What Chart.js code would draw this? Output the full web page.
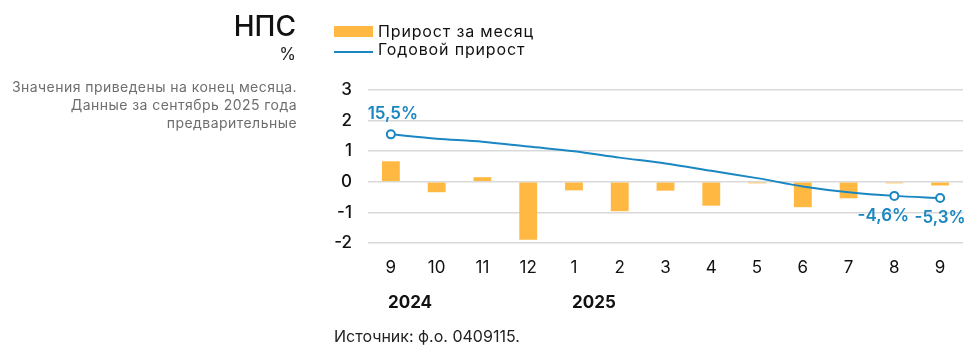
<!DOCTYPE html>
<html><head><meta charset="utf-8">
<script src="https://cdn.jsdelivr.net/npm/chart.js@4/dist/chart.umd.min.js"></script>
<style>
html,body{margin:0;padding:0;background:#fff;}
body{width:969px;height:356px;position:relative;overflow:hidden;font-family:Inter,"Noto Sans",sans-serif;}
#c{position:absolute;left:0;top:0;}
.t{position:absolute;white-space:nowrap;line-height:normal;}
</style></head><body>
<canvas id="c" width="969" height="356"></canvas>
<div class="t" style="right:673px;top:9px;font-size:28px;font-weight:500;color:#111;">НПС</div>
<div class="t" style="right:673px;top:44px;font-size:17px;color:#222;">%</div>
<div class="t" style="right:672px;top:78px;font-size:14px;line-height:18px;color:#6e6e6e;text-align:right;letter-spacing:0.45px;">Значения приведены на конец месяца.<br>Данные за сентябрь 2025 года<br>предварительные</div>
<div class="t" style="left:334px;top:26px;width:39px;height:11px;background:#ffb943;"></div>
<div class="t" style="left:378px;top:21px;font-size:16px;color:#111;letter-spacing:0.85px;">Прирост за месяц</div>
<div class="t" style="left:334px;top:51px;width:39px;height:2px;background:#1a87c2;"></div>
<div class="t" style="left:378px;top:39px;font-size:16px;color:#111;letter-spacing:0.85px;">Годовой прирост</div>
<div class="t" id="y1" style="left:388px;top:292px;font-size:17px;font-weight:700;color:#111;"></div>
<div class="t" id="y2" style="left:572px;top:292px;font-size:17px;font-weight:700;color:#111;"></div>
<div class="t" style="left:334px;top:326px;font-size:16px;color:#222;">Источник: ф.о. 0409115.</div>
<script>
const categories = ['9','10','11','12','1','2','3','4','5','6','7','8','9'];
const years = ['2024','2025'];
const monthlyGrowth = [0.67,-0.34,0.15,-1.89,-0.28,-0.96,-0.29,-0.78,-0.05,-0.83,-0.54,-0.05,-0.12];
const annualGrowth = [15.5,14.1,13.1,11.5,10.0,7.9,6.0,3.6,1.2,-1.5,-3.4,-4.6,-5.3];
const labeledPoints = [0,11,12];
const labelShiftX = [2,-11,0];
const yTicks = [3,2,1,0,-1,-2];

document.getElementById('y1').textContent = years[0];
document.getElementById('y2').textContent = years[1];

const BLUE = '#1a87c2';
const FONT = 'Inter, "Noto Sans", sans-serif';

const labelPlugin = {
  id:'lbl',
  afterDatasetsDraw(chart){
    const ctx = chart.ctx;
    const meta = chart.getDatasetMeta(1);
    ctx.save();
    ctx.fillStyle = BLUE;
    ctx.font = '600 17px ' + FONT;
    ctx.textAlign = 'center';
    ctx.textBaseline = 'middle';
    labeledPoints.forEach((i,k)=>{
      const p = meta.data[i];
      const v = annualGrowth[i];
      const txt = v.toFixed(1).replace('.',',') + '%';
      const dy = v >= 0 ? -20 : 20;
      ctx.fillText(txt, p.x + labelShiftX[k], p.y + dy);
    });
    ctx.restore();
  }
};

new Chart(document.getElementById('c'), {
  data:{
    labels: categories,
    datasets:[
      {type:'bar', label:'Прирост за месяц', data: monthlyGrowth, backgroundColor:'#ffb943', yAxisID:'y',
       categoryPercentage:1, barPercentage:0.39, order:2},
      {type:'line', label:'Годовой прирост', data: annualGrowth, yAxisID:'y2', borderColor:BLUE, borderWidth:2,
       tension:0.3, pointRadius: annualGrowth.map((v,i)=>labeledPoints.includes(i)?4:0),
       pointBackgroundColor:'#fff', pointBorderColor:BLUE, pointBorderWidth:2, order:1}
    ]
  },
  options:{
    responsive:false, animation:false,
    layout:{padding:{left:320, right:6, top:90, bottom:73}},
    plugins:{legend:{display:false}, tooltip:{enabled:false}},
    scales:{
      x:{grid:{display:false, drawTicks:false}, border:{display:false},
         ticks:{color:'#111', font:{family:FONT, size:17}, padding:15},
         afterFit(s){s.height=40;}},
      y:{min:-2, max:3, position:'left',
         grid:{color:'#d9d9d9', lineWidth:1.5, drawTicks:false}, border:{display:false},
         afterBuildTicks(s){s.ticks = yTicks.map(v=>({value:v}));},
         ticks:{color:'#111', font:{family:FONT, size:17, weight:'500'}, padding:16},
         afterFit(s){s.width=48;}},
      y2:{min:-20, max:30, display:false}
    }
  },
  plugins:[labelPlugin]
});
</script>
</body></html>
